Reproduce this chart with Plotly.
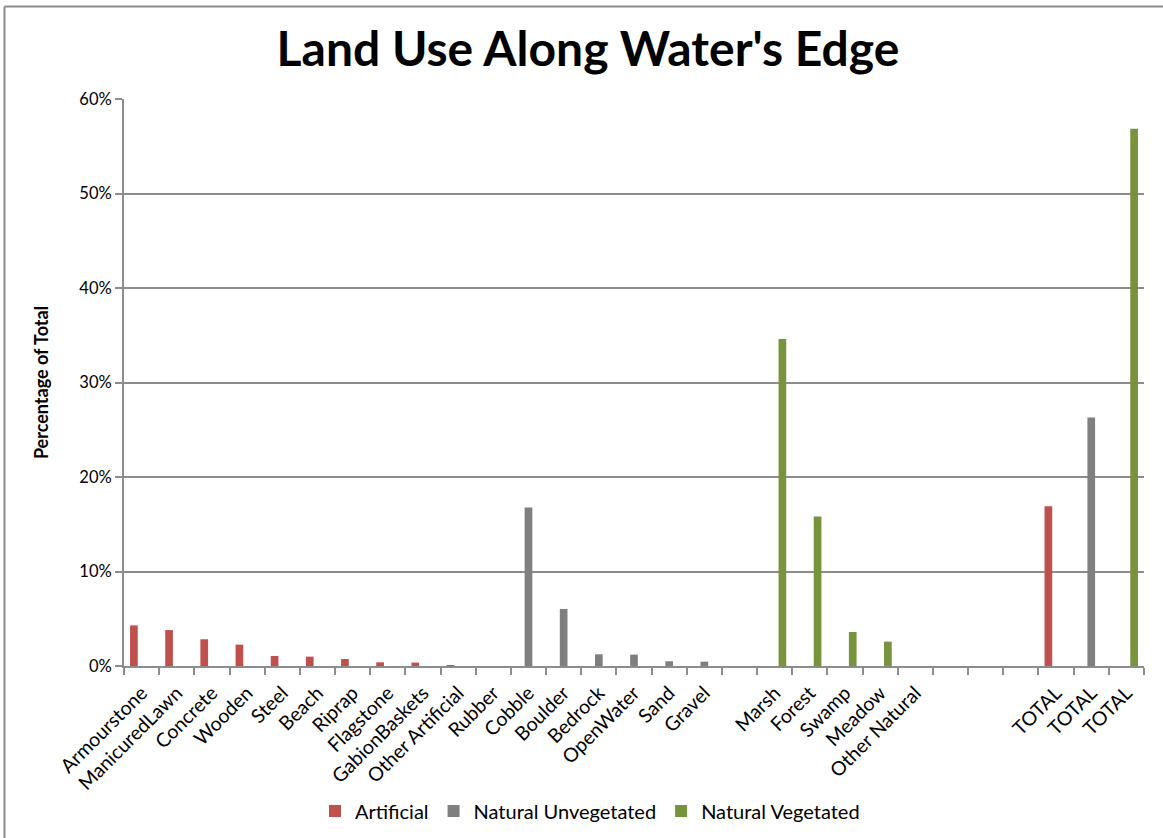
import plotly.graph_objects as go

# Shoreline categories (blank slots separate the groups)
categories = [
    "Armourstone", "ManicuredLawn", "Concrete", "Wooden", "Steel", "Beach",
    "Riprap", "Flagstone", "GabionBaskets", "Other Artificial", "Rubber",
    "Cobble", "Boulder", "Bedrock", "OpenWater", "Sand", "Gravel", "",
    "Marsh", "Forest", "Swamp", "Meadow", "Other Natural", "", "", "",
    "TOTAL", "TOTAL", "TOTAL",
]

# Shares of shoreline length (fractions); None = no bar in that slot
artificial = [
    0.043, 0.038, 0.0283, 0.0226, 0.0106, 0.0099, 0.0074, 0.0039, 0.0036, 0.001, 0.0,
    None, None, None, None, None, None, None,
    None, None, None, None, None, None, None, None,
    0.169, None, None,
]
natural_unvegetated = [
    None, None, None, None, None, None, None, None, None, None, None,
    0.1678, 0.0604, 0.0124, 0.012, 0.005, 0.0046, None,
    None, None, None, None, None, None, None, None,
    None, 0.263, None,
]
natural_vegetated = [
    None, None, None, None, None, None, None, None, None, None, None,
    None, None, None, None, None, None, None,
    0.346, 0.1583, 0.036, 0.0258, 0.0, None, None, None,
    None, None, 0.5685,
]

series = [
    ("Artificial", artificial, "#C0504D"),
    ("Natural Unvegetated", natural_unvegetated, "#7F7F7F"),
    ("Natural Vegetated", natural_vegetated, "#77933C"),
]

positions = list(range(len(categories)))
font_family = "Lato, 'Open Sans', sans-serif"
axis_grey = "#8C8C8C"

fig = go.Figure()
for name, values, color in series:
    fig.add_trace(go.Bar(
        x=positions,
        y=values,
        name=name,
        marker=dict(color=color, line=dict(width=0)),
    ))

fig.update_layout(
    width=1163,
    height=838,
    barmode="group",
    bargap=0.344,
    bargroupgap=0,
    plot_bgcolor="white",
    paper_bgcolor="white",
    margin=dict(l=124, r=19, t=99, b=172, autoexpand=False),
    font=dict(family=font_family, color="#000000"),
    title=dict(
        text="<b>Land Use Along Water's Edge</b>",
        font=dict(family=font_family, size=48, color="#000000"),
        x=588 / 1163, xanchor="center", xref="container",
        y=1 - 49 / 838, yanchor="middle", yref="container",
    ),
    legend=dict(
        orientation="h",
        x=590 / 1163, xanchor="center", xref="container",
        y=1 - 811 / 838, yanchor="middle", yref="container",
        font=dict(family=font_family, size=20, color="#000000"),
        tracegroupgap=0,
    ),
    showlegend=True,
)

fig.update_xaxes(
    automargin=False,
    range=[-0.5, len(categories) - 0.5],
    tickmode="array",
    tickvals=positions,
    ticktext=categories,
    tickangle=-45,
    tickfont=dict(family=font_family, size=19.5, color="#000000"),
    ticks="",
    ticklabelstandoff=6,
    showline=True,
    linecolor=axis_grey,
    linewidth=2,
    showgrid=False,
    zeroline=False,
    minor=dict(
        tickmode="linear",
        tick0=-0.5,
        dtick=1,
        ticks="outside",
        ticklen=7,
        tickwidth=2,
        tickcolor=axis_grey,
        showgrid=False,
    ),
)

fig.update_yaxes(
    automargin=False,
    range=[0, 0.6],
    tickmode="linear",
    tick0=0,
    dtick=0.1,
    tickformat=".0%",
    tickfont=dict(family=font_family, size=16.5, color="#000000"),
    ticks="outside",
    ticklen=7,
    tickwidth=2,
    tickcolor=axis_grey,
    showline=True,
    linecolor=axis_grey,
    linewidth=2,
    showgrid=True,
    gridcolor=axis_grey,
    gridwidth=1.5,
    zeroline=False,
    title=dict(
        text="<b>Percentage of Total</b>",
        font=dict(family=font_family, size=18, color="#000000"),
        standoff=26,
    ),
)

# Chart-area frame along the top and left edges
fig.add_shape(type="line", xref="paper", yref="paper",
              x0=(4.5 - 124) / 1020, x1=(1170 - 124) / 1020,
              y0=(665.7 - 7) / 566.4, y1=(665.7 - 7) / 566.4,
              line=dict(color=axis_grey, width=2))
fig.add_shape(type="line", xref="paper", yref="paper",
              x0=(4.5 - 124) / 1020, x1=(4.5 - 124) / 1020,
              y0=(665.7 - 7) / 566.4, y1=(665.7 - 845) / 566.4,
              line=dict(color=axis_grey, width=2))

fig.write_html("out.html")
